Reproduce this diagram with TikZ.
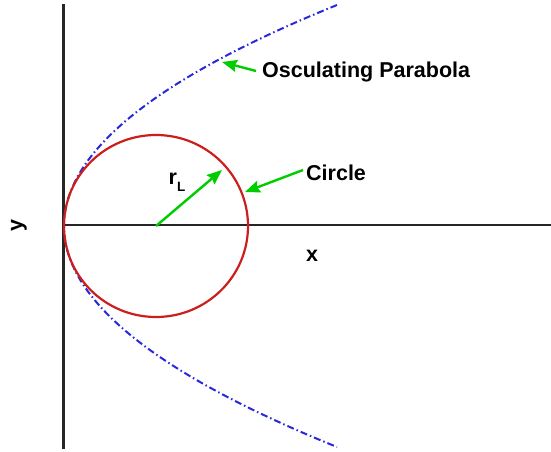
\documentclass[tikz,border=0pt]{standalone}
\usepackage{fontspec}
\setmainfont{Liberation Sans}
\usetikzlibrary{arrows.meta}
\definecolor{arrgreen}{RGB}{0,205,0}
\definecolor{parblue}{RGB}{40,40,220}
\definecolor{circred}{RGB}{205,30,30}
\tikzset{
  axisline/.style={line width=2.3pt, black!85},
  greenarrow/.style={line width=2.4pt, arrgreen, -{Stealth[length=15pt,width=12pt,inset=2pt]}},
  lbl/.style={font=\fontsize{21.5}{25}\selectfont\bfseries, inner sep=0pt},
  parab/.style={parblue, line width=2pt, dash pattern=on 7pt off 3pt on 1.5pt off 3pt},
  circ/.style={circred, line width=2.2pt}
}
\begin{document}
\begin{tikzpicture}[x=1pt,y=-1pt]
\useasboundingbox (0,0) rectangle (551,452);
% axes
\coordinate (ytop) at (63.5,4);
\coordinate (ybot) at (63.5,449);
\coordinate (xleft) at (63.5,225);
\coordinate (xright) at (551,225);
\draw[axisline] (ytop) -- (ybot);
\draw[axisline] (xleft) -- (xright);
% parabola
\draw[parab] plot[domain=-2.21:2.21, samples=120, smooth] ({64+55.9*\x*\x},{226+100*\x});
% circle
\coordinate (cen) at (156,226);
\draw[circ] (cen) ellipse [x radius=92, y radius=91];
% labels
\node[lbl, anchor=west] (osc) at (262,72) {Osculating Parabola};
\node[lbl, anchor=west] (circlbl) at (306,173) {Circle};
\node[lbl] (rl) at (177,182) {r\raisebox{-0.35em}{\fontsize{13.5}{15}\selectfont L}};
\node[lbl] (xl) at (312,256) {x};
\node[lbl, rotate=90] (yl) at (19,226) {y};
% arrows
\coordinate (osctail) at (256,71);
\coordinate (osctip) at (222,62);
\coordinate (circtail) at (303,170);
\coordinate (circtip) at (245,192);
\coordinate (rtip) at (222,170);
\draw[greenarrow] (osctail) -- (osctip);
\draw[greenarrow] (circtail) -- (circtip);
\draw[greenarrow] (cen) -- (rtip);
\end{tikzpicture}
\end{document}
